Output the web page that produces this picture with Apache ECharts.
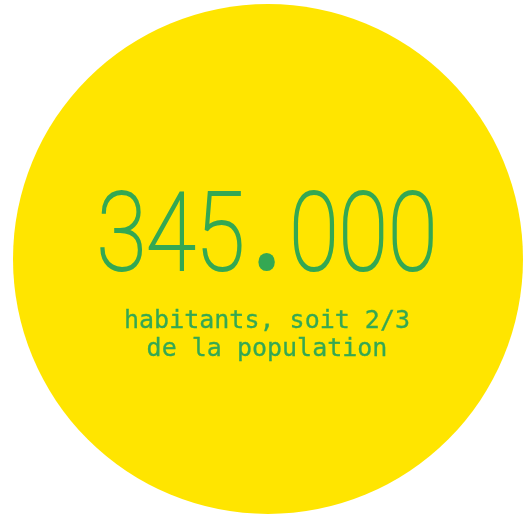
<!DOCTYPE html>
<html>
<head>
<meta charset="utf-8">
<script src="https://cdn.jsdelivr.net/npm/echarts@6/dist/echarts.min.js"></script>
<style>
  html, body { margin: 0; padding: 0; background: #fff; }
  #chart { width: 523px; height: 515px; }
</style>
</head>
<body>
<div id="chart"></div>
<script>
// données
const populationValue = [345000];
const mainParts = ['345', '.', '000'];
const subLines = ['habitants, soit 2/3', 'de la population'];

const yellow = '#FFE500';
const green = '#34A853';

let myChart = echarts.init(document.getElementById('chart'));

let subStyle = {
    font: '25px "DejaVu Sans Mono"',
    fill: green,
    stroke: green,
    lineWidth: 0.3,
    align: 'center',
    verticalAlign: 'middle'
};

let option = {
    backgroundColor: '#fff',
    animation: false,
    series: [
        {
            type: 'pie',
            silent: true,
            z: 1,
            center: [268, 259],
            radius: [0, 255],
            label: { show: false },
            labelLine: { show: false },
            itemStyle: { color: yellow, borderWidth: 0 },
            data: populationValue.map(v => ({ value: v, name: mainParts.join('') }))
        }
    ],
    graphic: {
        elements: [
            {
                type: 'text',
                x: 267,
                y: 242,
                z: 100,
                scaleX: 0.82,
                style: {
                    text: '{n|' + mainParts[0] + '}{p|' + mainParts[1] + '}{n|' + mainParts[2] + '}',
                    fill: green,
                    align: 'center',
                    verticalAlign: 'middle',
                    rich: {
                        n: { font: '100 110px Roboto', fill: green, stroke: green, lineWidth: 2.2 },
                        p: { font: '900 110px Roboto', fill: green, width: 54, align: 'center' }
                    }
                }
            },
            {
                type: 'text',
                x: 267,
                y: 321,
                z: 100,
                style: Object.assign({ text: subLines[0] }, subStyle)
            },
            {
                type: 'text',
                x: 267,
                y: 349,
                z: 100,
                style: Object.assign({ text: subLines[1] }, subStyle)
            }
        ]
    }
};
myChart.setOption(option);
</script>
</body>
</html>
